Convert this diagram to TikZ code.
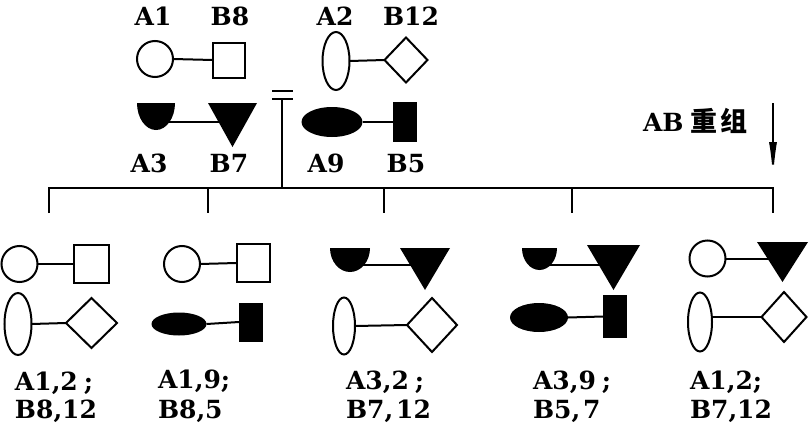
\documentclass[tikz,border=0pt]{standalone}
\usepackage{fontspec}
\newfontfamily\cjk{Noto Sans CJK SC}
\newfontfamily\labfont{DejaVu Serif}
\usetikzlibrary{shapes.geometric,arrows.meta}
\begin{document}
\begin{tikzpicture}[x=1pt,y=-1pt,
  every node/.style={inner sep=0pt, outer sep=0pt},
  shp/.style={line width=2pt},
  circ/.style={shp, draw, circle, minimum size=36pt},
  sq/.style={shp, draw, rectangle},
  diam/.style={shp, draw, diamond},
  vell/.style={shp, draw, ellipse},
  fell/.style={fill, ellipse},
  frect/.style={fill, rectangle},
  hbox/.style={rectangle},
  link/.style={line width=2pt},
  lab/.style={font=\labfont\fontsize{25}{30}\selectfont\bfseries, anchor=base},
  glab/.style={font=\labfont\fontsize{25}{30}\selectfont\bfseries, anchor=base west},
]
\useasboundingbox (0,0) rectangle (809,431);

% ---------- parents ----------
\node[circ] (p1a) at (155,59) {};
\node[sq, minimum width=32pt, minimum height=35pt] (p1b) at (229,60) {};
\node[vell, minimum width=27pt, minimum height=58pt] (p2a) at (336,61) {};
\node[diam, minimum width=43pt, minimum height=45pt] (p2b) at (406,60) {};
\node[hbox, minimum width=38pt, minimum height=27pt] (p3a) at (156,116.5) {};
\node[hbox, minimum width=49pt, minimum height=44pt] (p3b) at (232.5,125) {};
\node[fell, minimum width=61pt, minimum height=30pt] (p4a) at (332,122) {};
\node[frect, minimum width=24pt, minimum height=40pt] (p4b) at (405,122) {};

\draw[link] (p1a.east) -- (p1b.west);
\draw[link] (p2a.east) -- (p2b.west);
\draw[link] ([yshift=-5.5pt]p3a.center) -- ([yshift=-5.5pt]p3a.center -| p3b.center);
\draw[link] (p4a.east) -- (p4b.west);
\fill (p3a.north west) -- (p3a.north east) arc[start angle=0, end angle=-180, x radius=19pt, y radius=27pt] -- cycle;
\fill (p3b.north west) -- (p3b.north east) -- (p3b.south) -- cycle;

\node[lab] (lA1) at (153,25) {A1};
\node[lab] (lB8) at (230,25) {B8};
\node[lab] (lA2) at (335,25) {A2};
\node[lab] (lB12) at (411,25) {B12};
\node[lab] (lA3) at (149,172) {A3};
\node[lab] (lB7) at (229,172) {B7};
\node[lab] (lA9) at (326,172) {A9};
\node[lab] (lB5) at (406,172) {B5};

% ---------- mating symbol and sibship line ----------
\coordinate (m1l) at (272,91); \coordinate (m1r) at (293,91);
\coordinate (m2l) at (272,99); \coordinate (m2r) at (293,99);
\coordinate (mate) at (282,99); \coordinate (sib) at (282,188);
\draw[link] (m1l) -- (m1r);
\draw[link] (m2l) -- (m2r);
\draw[link] (mate) -- (sib);

\coordinate (d1) at (49,213); \coordinate (d2) at (208,213);
\coordinate (d3) at (384,213); \coordinate (d4) at (572,213);
\coordinate (d5) at (773,213);
\coordinate (t2) at (208,188); \coordinate (t3) at (384,188);
\coordinate (t4) at (572,188); \coordinate (t5) at (773,188);
\draw[line width=2.3pt] (d1) |- (t5) -- (d5);
\draw[link] (t2) -- (d2);
\draw[link] (t3) -- (d3);
\draw[link] (t4) -- (d4);

% ---------- recombination arrow ----------
\node[lab, anchor=base west] (rec) at (643,131) {AB\kern7pt{\cjk\fontsize{27}{30}\selectfont 重\kern3pt 组}};
\coordinate (arrS) at (773,103); \coordinate (arrE) at (773,178);
\draw[line width=2pt, -{Latex[length=36pt,width=8pt]}] (arrS) -- (arrE);

% ---------- offspring 1 ----------
\node[circ] (o1a) at (19.5,264) {};
\node[sq, minimum width=35pt, minimum height=38pt] (o1b) at (91,264) {};
\node[vell, minimum width=27pt, minimum height=62pt] (o1c) at (18,324) {};
\node[diam, minimum width=51pt, minimum height=50pt] (o1d) at (91.5,323) {};
\draw[link] (o1a.east) -- (o1b.west);
\draw[link] (o1c.east) -- (o1d.west);

% ---------- offspring 2 ----------
\node[circ] (o2a) at (182,264) {};
\node[sq, minimum width=33pt, minimum height=38pt] (o2b) at (253,263) {};
\node[fell, minimum width=55pt, minimum height=23pt] (o2c) at (179,324) {};
\node[frect, minimum width=24pt, minimum height=39pt] (o2d) at (251,322) {};
\draw[link] (o2a.east) -- (o2b.west);
\draw[link] (o2c.east) -- (o2d.west);

% ---------- offspring 3 ----------
\node[hbox, minimum width=40pt, minimum height=24pt] (o3a) at (350,260) {};
\node[hbox, minimum width=50pt, minimum height=42pt] (o3b) at (425,269) {};
\node[vell, minimum width=22pt, minimum height=57pt] (o3c) at (344,326) {};
\node[diam, minimum width=50pt, minimum height=54pt] (o3d) at (432,325) {};
\draw[link] ([yshift=-5pt]o3a.center) -- ([yshift=-5pt]o3a.center -| o3b.center);
\fill (o3a.north west) -- (o3a.north east) arc[start angle=0, end angle=-180, x radius=20pt, y radius=24pt] -- cycle;
\fill (o3b.north west) -- (o3b.north east) -- (o3b.south) -- cycle;
\draw[link] (o3c.east) -- (o3d.west);

% ---------- offspring 4 ----------
\node[hbox, minimum width=35pt, minimum height=22pt] (o4a) at (539.5,259) {};
\node[hbox, minimum width=53pt, minimum height=45pt] (o4b) at (613.5,267.5) {};
\node[fell, minimum width=58pt, minimum height=29pt] (o4c) at (539,317.5) {};
\node[frect, minimum width=24pt, minimum height=43pt] (o4d) at (615,316.5) {};
\draw[link] ([yshift=-6pt]o4a.center) -- ([yshift=-6pt]o4a.center -| o4b.center);
\fill (o4a.north west) -- (o4a.north east) arc[start angle=0, end angle=-180, x radius=17.5pt, y radius=22pt] -- cycle;
\fill (o4b.north west) -- (o4b.north east) -- (o4b.south) -- cycle;
\draw[link] (o4c.east) -- (o4d.west);

% ---------- offspring 5 ----------
\node[circ] (o5a) at (707.5,258.5) {};
\node[hbox, minimum width=51pt, minimum height=40pt] (o5b) at (782.5,262) {};
\node[vell, minimum width=24pt, minimum height=59pt] (o5c) at (700,322) {};
\node[diam, minimum width=45pt, minimum height=50pt] (o5d) at (784,317) {};
\draw[link] (o5a.east) -- (o5a.east -| o5b.center);
\fill (o5b.north west) -- (o5b.north east) -- (o5b.south) -- cycle;
\draw[link] (o5d.west -| o5c.east) -- (o5d.west);

% ---------- genotype labels ----------
\node[glab] (g1a) at (15,390) {A1,2\kern6pt;};
\node[glab] (g1b) at (15,418) {B8,12};
\node[glab] (g2a) at (158,388) {A1,9;};
\node[glab] (g2b) at (158,418) {B8,5};
\node[glab] (g3a) at (346,389) {A3,2\kern6pt;};
\node[glab] (g3b) at (346,418) {B7,\kern3pt12};
\node[glab] (g4a) at (533,389) {A3,9\kern6pt;};
\node[glab] (g4b) at (533,418) {B5,\kern3pt7};
\node[glab] (g5a) at (690,389) {A1,2;};
\node[glab] (g5b) at (690,418) {B7,12};
\end{tikzpicture}
\end{document}
